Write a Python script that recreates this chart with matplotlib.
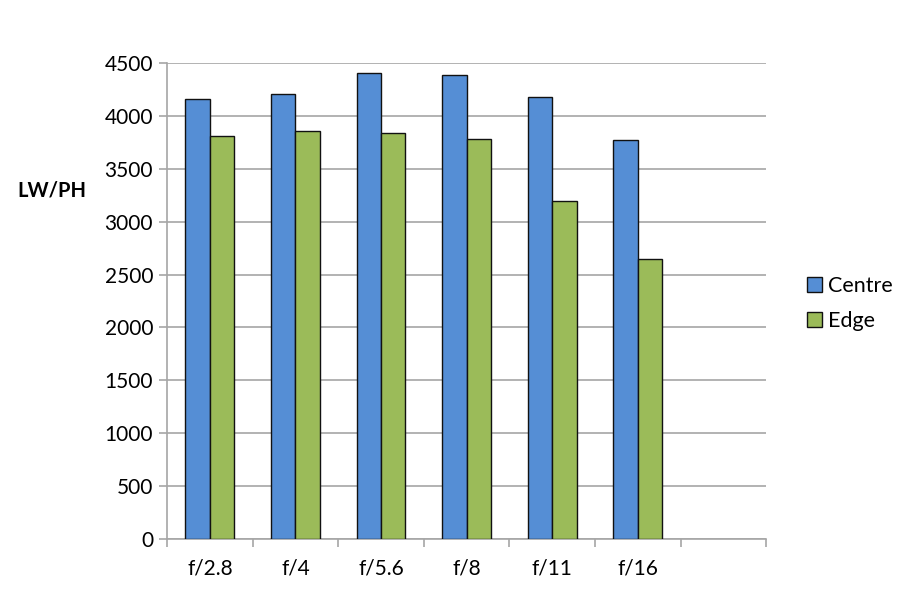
import matplotlib.pyplot as plt
import numpy as np

plt.rcParams['font.family'] = ['Lato', 'DejaVu Sans']

categories = ['f/2.8', 'f/4', 'f/5.6', 'f/8', 'f/11', 'f/16']
centre = [4160, 4210, 4410, 4390, 4175, 3770]
edge = [3810, 3860, 3840, 3780, 3200, 2645]
yticks = [0, 500, 1000, 1500, 2000, 2500, 3000, 3500, 4000, 4500]


def main():
    fig = plt.figure(figsize=(9, 6.04), dpi=100)
    ax = fig.add_axes([0.1856, 0.1076, 0.6656, 0.788])

    grid_col = '#A6A6A6'
    x = np.arange(len(categories))
    w = 0.286
    ax.bar(x - w / 2, centre, w, color='#558ED5', edgecolor='#111111',
           linewidth=1.0, label='Centre', zorder=3)
    ax.bar(x + w / 2, edge, w, color='#9BBB59', edgecolor='#111111',
           linewidth=1.0, label='Edge', zorder=3)

    # 7 slots, the last one empty
    ax.set_xlim(-0.5, 6.5)
    ax.set_ylim(0, 4500)
    ax.set_yticks(yticks)
    ax.set_yticklabels([str(v) for v in yticks], fontsize=15)
    ax.set_xticks(x)
    ax.set_xticklabels(categories, fontsize=15)
    ax.set_xticks(np.arange(-0.5, 7.0, 1.0), minor=True)
    ax.tick_params(axis='x', which='major', length=0, pad=14)
    ax.tick_params(axis='x', which='minor', length=6, color=grid_col,
                   width=1.2)
    ax.tick_params(axis='y', length=6, color=grid_col, width=1.2, pad=4)

    ax.grid(axis='y', color=grid_col, linewidth=1.2, zorder=0)
    ax.set_axisbelow(True)
    for s in ['top', 'right']:
        ax.spines[s].set_visible(False)
    for s in ['left', 'bottom']:
        ax.spines[s].set_color(grid_col)
        ax.spines[s].set_linewidth(1.2)

    fig.text(0.058, 0.685, 'LW/PH', fontsize=14.5, fontweight='bold',
             ha='center', va='center')

    fig.legend(loc='center left', bbox_to_anchor=(0.897, 0.497),
               frameon=False, fontsize=15.5, handlelength=0.7,
               handleheight=0.7, handletextpad=0.25, labelspacing=0.7,
               borderpad=0, borderaxespad=0)

    fig.savefig('out.png', dpi=100)


if __name__ == "__main__":
    main()
